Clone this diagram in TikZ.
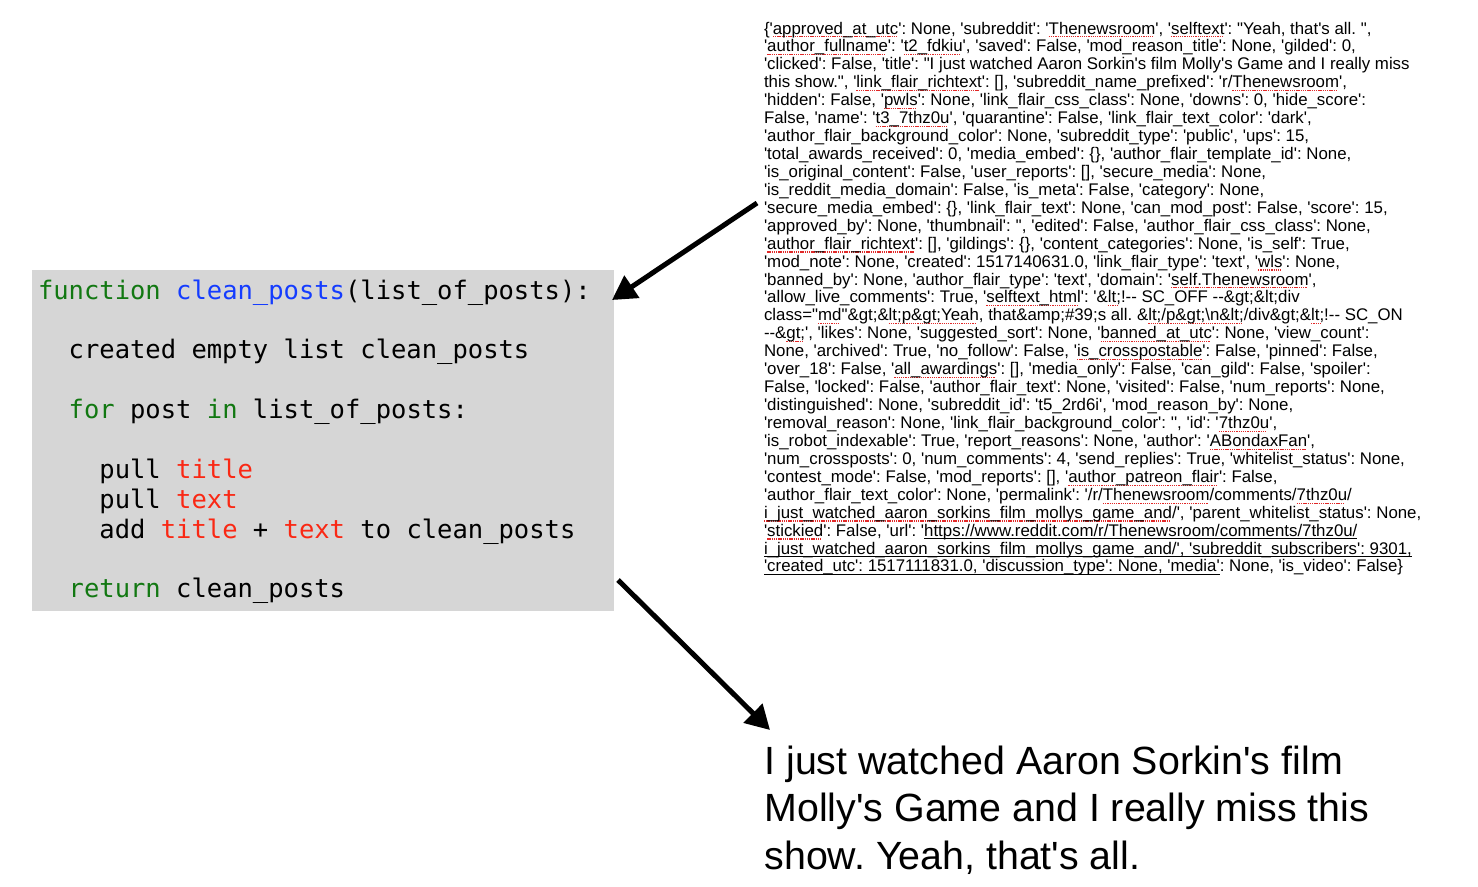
\documentclass[tikz,border=0pt]{standalone}
\usepackage{fontspec}
\usetikzlibrary{arrows.meta}
\newfontfamily\jsonfont{Liberation Sans}
\newfontfamily\codefont{DejaVu Sans Mono}
\definecolor{boxgray}{RGB}{214,214,214}
\definecolor{codegreen}{RGB}{18,120,18}
\definecolor{codeblue}{RGB}{20,60,255}
\definecolor{codered}{RGB}{250,40,20}
\definecolor{sqred}{RGB}{225,40,40}
\newsavebox\ulbox
\newcommand\sq[1]{\sbox\ulbox{#1}\rlap{\color{sqred}\hbox to\wd\ulbox{\leaders\hbox{\rule[-3.4bp]{1.3bp}{1.1bp}\kern0.9bp}\hfil}}\usebox\ulbox}
\newcommand\ul[1]{\sbox\ulbox{#1}\rlap{\rule[-2.8bp]{\wd\ulbox}{0.9bp}}\usebox\ulbox}
\newcommand\kw[1]{{\color{codegreen}#1}}
\newcommand\fn[1]{{\color{codeblue}#1}}
\newcommand\fld[1]{{\color{codered}#1}}
\tikzset{
  bigarrow/.style={line width=5bp, -{Triangle[length=24bp,width=26bp]}},
  plain/.style={inner sep=0pt, outer sep=0pt},
}
\begin{document}
\frenchspacing
\begin{tikzpicture}[x=1bp,y=-1bp]
\useasboundingbox (0,0) rectangle (1478,886);

% code box
\node[plain, fill=boxgray, minimum width=582bp, minimum height=341bp, anchor=north west] (codebox) at (32,270) {};
\node[plain, anchor=base west, font=\codefont\fontsize{25.6}{30}\selectfont] (code) at (38,299) {%
\begin{tabular}[t]{@{}l@{}}
\kw{function} \fn{clean\_posts}(list\_of\_posts):\\
\\
\phantom{xx}created empty list clean\_posts\\
\\
\phantom{xx}\kw{for} post \kw{in} list\_of\_posts:\\
\\
\phantom{xxxx}pull \fld{title}\\
\phantom{xxxx}pull \fld{text}\\
\phantom{xxxx}add \fld{title} + \fld{text} to clean\_posts\\
\\
\phantom{xx}\kw{return} clean\_posts
\end{tabular}};

% raw json text
\node[plain, anchor=base west, font=\jsonfont\fontsize{16.9}{18}\selectfont] (json) at (764,34) {%
\begin{tabular}[t]{@{}l@{}}
\{'\sq{approved\_at\_utc}': None, 'subreddit': '\sq{Thenewsroom}', '\sq{selftext}': "Yeah, that's all. ",\\
'\sq{author\_fullname}': '\sq{t2\_fdkiu}', 'saved': False, 'mod\_reason\_title': None, 'gilded': 0,\\
'clicked': False, 'title': "I just watched Aaron Sorkin's film Molly's Game and I really miss\\
this show.", '\sq{link\_flair\_richtext}': [], 'subreddit\_name\_prefixed': 'r/\sq{Thenewsroom}',\\
'hidden': False, '\sq{pwls}': None, 'link\_flair\_css\_class': None, 'downs': 0, 'hide\_score':\\
False, 'name': '\sq{t3\_7thz0u}', 'quarantine': False, 'link\_flair\_text\_color': 'dark',\\
'author\_flair\_background\_color': None, 'subreddit\_type': 'public', 'ups': 15,\\
'total\_awards\_received': 0, 'media\_embed': \{\}, 'author\_flair\_template\_id': None,\\
'is\_original\_content': False, 'user\_reports': [], 'secure\_media': None,\\
'is\_reddit\_media\_domain': False, 'is\_meta': False, 'category': None,\\
'secure\_media\_embed': \{\}, 'link\_flair\_text': None, 'can\_mod\_post': False, 'score': 15,\\
'approved\_by': None, 'thumbnail': '', 'edited': False, 'author\_flair\_css\_class': None,\\
'\sq{author\_flair\_richtext}': [], 'gildings': \{\}, 'content\_categories': None, 'is\_self': True,\\
'mod\_note': None, 'created': 1517140631.0, 'link\_flair\_type': 'text', '\sq{wls}': None,\\
'banned\_by': None, 'author\_flair\_type': 'text', 'domain': '\sq{self.Thenewsroom}',\\
'allow\_live\_comments': True, '\sq{selftext\_html}': '\&\sq{lt;}!-- SC\_OFF --\&gt;\&lt;div\\
class="\sq{md}"\&gt;\&\sq{lt;p\&gt;Yeah}, that\&amp;\#39;s all. \&\sq{lt;/p\&gt;\textbackslash n\&lt;}/div\&gt;\&\sq{lt;}!-- SC\_ON\\
--\&\sq{gt;}', 'likes': None, 'suggested\_sort': None, '\sq{banned\_at\_utc}': None, 'view\_count':\\
None, 'archived': True, 'no\_follow': False, '\sq{is\_crosspostable}': False, 'pinned': False,\\
'over\_18': False, '\sq{all\_awardings}': [], 'media\_only': False, 'can\_gild': False, 'spoiler':\\
False, 'locked': False, 'author\_flair\_text': None, 'visited': False, 'num\_reports': None,\\
'distinguished': None, 'subreddit\_id': 't5\_2rd6i', 'mod\_reason\_by': None,\\
'removal\_reason': None, 'link\_flair\_background\_color': '', 'id': '\sq{7thz0u}',\\
'is\_robot\_indexable': True, 'report\_reasons': None, 'author': '\sq{ABondaxFan}',\\
'num\_crossposts': 0, 'num\_comments': 4, 'send\_replies': True, 'whitelist\_status': None,\\
'contest\_mode': False, 'mod\_reports': [], '\sq{author\_patreon\_flair}': False,\\
'author\_flair\_text\_color': None, 'permalink': '/r/\sq{Thenewsroom}/comments/\sq{7thz0u}/\\
\sq{i\_just\_watched\_aaron\_sorkins\_film\_mollys\_game\_and}/', 'parent\_whitelist\_status': None,\\
'\sq{stickied}': False, 'url': '\ul{https://www.reddit.com/r/Thenewsroom/comments/7thz0u/}\\
\ul{i\_just\_watched\_aaron\_sorkins\_film\_mollys\_game\_and/', 'subreddit\_subscribers': 9301,}\\
\ul{'created\_utc': 1517111831.0, 'discussion\_type': None, 'media'}: None, 'is\_video': False\}
\end{tabular}};

% cleaned output text
\node[plain, anchor=base west, font=\jsonfont\fontsize{39.5}{48}\selectfont] (out) at (764.5,774) {%
\begin{tabular}[t]{@{}l@{}}
I just watched Aaron Sorkin's film\\
Molly's Game and I really miss this\\
show. Yeah, that's all.
\end{tabular}};

% arrows
\coordinate (a1s) at (757,203);
\coordinate (a1e) at (612,300);
\coordinate (a2s) at (618,580);
\coordinate (a2e) at (770,730);
\draw[bigarrow] (a1s) -- (a1e);
\draw[bigarrow] (a2s) -- (a2e);
\end{tikzpicture}
\end{document}
